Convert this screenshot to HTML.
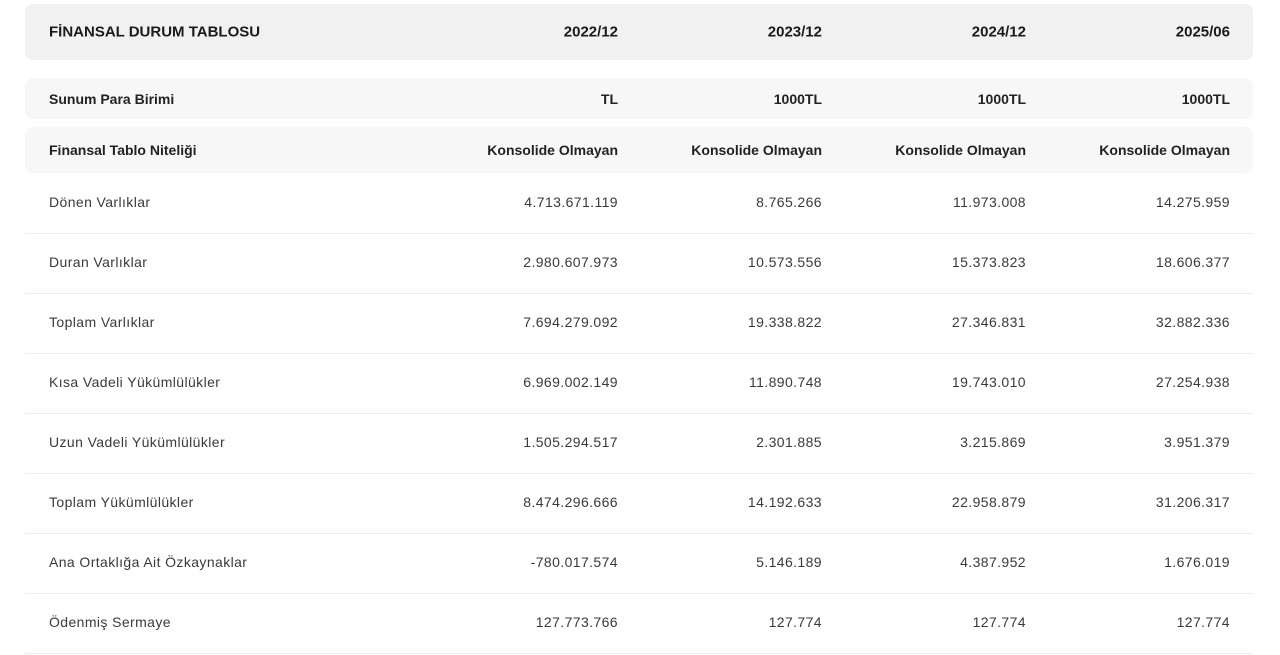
<!DOCTYPE html>
<html><head><meta charset="utf-8"><style>
body{margin:0;width:1280px;height:655px;overflow:hidden;background:#fff;font-family:"Liberation Sans",sans-serif;color:#333;}
.row{position:absolute;left:25px;width:1228px;}
.row span{position:absolute;top:50%;transform:translateY(-50%);white-space:nowrap;}
.row span.l{left:24px}
.c1{right:635px}.c2{right:431px}.c3{right:227px}.c4{right:23px}
.hdr{top:4px;height:56px;background:#f1f1f1;border-radius:8px;font-weight:bold;font-size:15px;color:#1a1a1a}
.sub{background:#f7f7f7;border-radius:8px;font-weight:bold;font-size:14px;color:#222}
.data{height:60px;border-bottom:1px solid #ececec;font-size:14px;letter-spacing:0.4px;color:#3a3a3a}
.data span{margin-top:-1px}
</style></head><body>
<div class="row hdr"><span class="l">FİNANSAL DURUM TABLOSU</span><span class="c1">2022/12</span><span class="c2">2023/12</span><span class="c3">2024/12</span><span class="c4">2025/06</span></div>
<div class="row sub" style="top:78px;height:41px"><span class="l">Sunum Para Birimi</span><span class="c1">TL</span><span class="c2">1000TL</span><span class="c3">1000TL</span><span class="c4">1000TL</span></div>
<div class="row sub" style="top:127px;height:46px"><span class="l">Finansal Tablo Niteliği</span><span class="c1">Konsolide Olmayan</span><span class="c2">Konsolide Olmayan</span><span class="c3">Konsolide Olmayan</span><span class="c4">Konsolide Olmayan</span></div>
<div id="rows"></div>
<script>
const labels=["Dönen Varlıklar","Duran Varlıklar","Toplam Varlıklar","Kısa Vadeli Yükümlülükler","Uzun Vadeli Yükümlülükler","Toplam Yükümlülükler","Ana Ortaklığa Ait Özkaynaklar","Ödenmiş Sermaye"];
const v2022=["4.713.671.119","2.980.607.973","7.694.279.092","6.969.002.149","1.505.294.517","8.474.296.666","-780.017.574","127.773.766"];
const v2023=["8.765.266","10.573.556","19.338.822","11.890.748","2.301.885","14.192.633","5.146.189","127.774"];
const v2024=["11.973.008","15.373.823","27.346.831","19.743.010","3.215.869","22.958.879","4.387.952","127.774"];
const v2025=["14.275.959","18.606.377","32.882.336","27.254.938","3.951.379","31.206.317","1.676.019","127.774"];
const host=document.getElementById('rows');
labels.forEach((lab,i)=>{
  const r=document.createElement('div');
  r.className='row data';
  r.style.top=(173+i*60)+'px';
  
  
  const cells=[['l',lab],['c1',v2022[i]],['c2',v2023[i]],['c3',v2024[i]],['c4',v2025[i]]];
  cells.forEach(([c,t])=>{const s=document.createElement('span');s.className=c;s.textContent=t;
    
    
    r.appendChild(s);});
  host.appendChild(r);
});
</script>
</body></html>
